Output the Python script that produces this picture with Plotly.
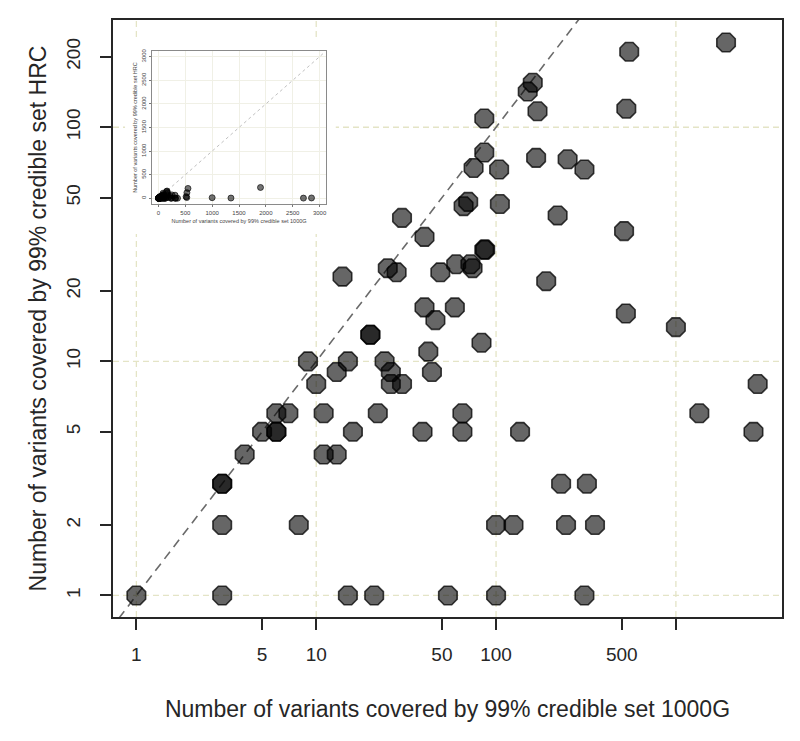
import plotly.graph_objects as go

# Number of variants in 99% credible set: 1000G (x) vs HRC (y)
hg1000 = [1, 3, 3, 3, 3, 4, 5, 6, 6, 6, 7, 8, 9, 10, 11, 11, 13, 13, 14, 15, 15, 16,
          20, 20, 21, 22, 24, 25, 26, 26, 28, 30, 30, 40, 39, 40, 42, 44, 46, 49, 54,
          59, 60, 65, 65, 66, 70, 72, 74, 75, 83, 86, 87, 86, 86, 100, 100, 104, 105,
          125, 136, 150, 160, 167, 170, 190, 220, 230, 245, 250, 310, 310, 320, 355,
          515, 527, 530, 550, 1000, 1350, 1900, 2700, 2850]
hrc = [1, 1, 2, 3, 3, 4, 5, 5, 5, 6, 6, 2, 10, 8, 6, 4, 4, 9, 23, 10, 1, 5,
       13, 13, 1, 6, 10, 25, 9, 8, 24, 8, 41, 34, 5, 17, 11, 9, 15, 24, 1,
       17, 26, 6, 5, 46, 48, 26, 25, 67, 12, 30, 30, 78, 109, 1, 2, 66, 47,
       2, 5, 142, 155, 74, 117, 22, 42, 3, 2, 73, 1, 66, 3, 2,
       36, 16, 120, 210, 14, 6, 230, 5, 8]

x_ticks = [1, 5, 10, 50, 100, 500, 1000]
x_ticktext = ["1", "5", "10", "50", "100", "500", ""]
y_ticks = [1, 2, 5, 10, 20, 50, 100, 200]
grid_x = [1, 10, 100, 1000]
grid_y = [1, 10, 100]
inset_ticks = [0, 500, 1000, 1500, 2000, 2500, 3000]
diag_main = [0.5, 5000]
diag_inset = [0, 3100]

x_title = "Number of variants covered by 99% credible set 1000G"
y_title = "Number of variants covered by 99% credible set HRC"

FONT = "Liberation Sans, Arial, sans-serif"
INK = "#262626"
GRID = "#e4e4c6"

# log10 axis ranges of the main panel
xr = [-0.13, 3.59]
yr = [-0.092, 2.458]
XLO, XHI = 10 ** xr[0], 10 ** xr[1]
YLO, YHI = 10 ** yr[0], 10 ** yr[1]

def fx(f):  # fraction of main x-domain -> data value
    return 10 ** (xr[0] + f * (xr[1] - xr[0]))

def fy(f):
    return 10 ** (yr[0] + f * (yr[1] - yr[0]))

fig = go.Figure()

# main grid (only at decades)
gx, gy = [], []
for v in grid_x:
    gx += [v, v, None]
    gy += [YLO, YHI, None]
for v in grid_y:
    gx += [XLO, XHI, None]
    gy += [v, v, None]
fig.add_trace(go.Scatter(x=gx, y=gy, mode="lines",
                         line=dict(color=GRID, width=1.3, dash="6px,4px"),
                         hoverinfo="skip", showlegend=False))

# white backing box of the inset
bx = [fx(0.018), fx(0.333), fx(0.333), fx(0.018), fx(0.018)]
by = [fy(0.6415), fy(0.6415), fy(0.97), fy(0.97), fy(0.6415)]
fig.add_trace(go.Scatter(x=bx, y=by, mode="lines", fill="toself",
                         fillcolor="white", line=dict(width=0, color="white"),
                         hoverinfo="skip", showlegend=False))

# main diagonal y = x
fig.add_trace(go.Scatter(x=diag_main, y=diag_main, mode="lines",
                         line=dict(color="#6a6a6a", width=1.6, dash="9px,6px"),
                         hoverinfo="skip", showlegend=False))
# main scatter
fig.add_trace(go.Scatter(x=hg1000, y=hrc, mode="markers",
                         marker=dict(symbol="octagon", size=20,
                                     color="rgba(0,0,0,0.6)",
                                     line=dict(color="rgba(0,0,0,0.75)", width=1.6)),
                         showlegend=False))

# inset
fig.add_trace(go.Scatter(x=diag_inset, y=diag_inset, mode="lines", xaxis="x2", yaxis="y2",
                         line=dict(color="#b0b0b0", width=0.8, dash="dot"),
                         hoverinfo="skip", showlegend=False))
fig.add_trace(go.Scatter(x=hg1000, y=hrc, mode="markers", xaxis="x2", yaxis="y2",
                         marker=dict(symbol="circle", size=6,
                                     color="rgba(0,0,0,0.55)",
                                     line=dict(color="rgba(0,0,0,0.8)", width=0.8)),
                         showlegend=False))

# page body has an 8px default margin: figure is 792x733 so the page fits 800x741
fig.update_layout(
    width=792, height=733,
    margin=dict(l=105, r=18, t=12, b=124),
    paper_bgcolor="white", plot_bgcolor="white",
    font=dict(family=FONT, color=INK),
    xaxis=dict(type="log", range=xr, domain=[0, 1], tickmode="array", automargin=False,
               tickvals=x_ticks, ticktext=x_ticktext, ticks="outside", ticklen=11,
               tickwidth=1.5, tickcolor=INK, showgrid=False, zeroline=False,
               showline=True, mirror=True, linecolor=INK, linewidth=2,
               tickfont=dict(size=19, family=FONT, color=INK), ticklabelstandoff=8,
               title=dict(text=x_title, font=dict(size=23, family=FONT, color=INK), standoff=37)),
    yaxis=dict(type="log", range=yr, domain=[0, 1], tickmode="array", automargin=False,
               tickvals=y_ticks, ticktext=[str(v) for v in y_ticks], ticks="outside",
               ticklen=11, tickwidth=1.5, tickcolor=INK, tickangle=-90,
               showgrid=False, zeroline=False,
               showline=True, mirror=True, linecolor=INK, linewidth=2,
               tickfont=dict(size=19, family=FONT, color=INK), ticklabelstandoff=12,
               title=dict(text=y_title, font=dict(size=23, family=FONT, color=INK), standoff=10)),
    xaxis2=dict(domain=[0.0583, 0.3184], anchor="y2", range=[-120, 3120], automargin=False,
                tickmode="array", tickvals=inset_ticks, ticks="outside", ticklen=2,
                tickcolor="#777", tickwidth=0.6,
                showgrid=True, gridcolor="#f0f0e6", gridwidth=0.6, zeroline=False,
                showline=True, mirror=True, linecolor="#8a8a8a", linewidth=1,
                tickfont=dict(size=6, family=FONT, color="#444"), ticklabelstandoff=1,
                title=dict(text=x_title, font=dict(size=5.5, family=FONT, color="#444"), standoff=3)),
    yaxis2=dict(domain=[0.6918, 0.948], anchor="x2", range=[-120, 3120], automargin=False,
                tickmode="array", tickvals=inset_ticks, ticks="outside", ticklen=2,
                tickcolor="#777", tickwidth=0.6, tickangle=-90,
                showgrid=True, gridcolor="#f0f0e6", gridwidth=0.6, zeroline=False,
                showline=True, mirror=True, linecolor="#8a8a8a", linewidth=1,
                tickfont=dict(size=6, family=FONT, color="#444"), ticklabelstandoff=1,
                title=dict(text=y_title, font=dict(size=5.5, family=FONT, color="#444"), standoff=2)),
)

fig.write_html("out.html")
